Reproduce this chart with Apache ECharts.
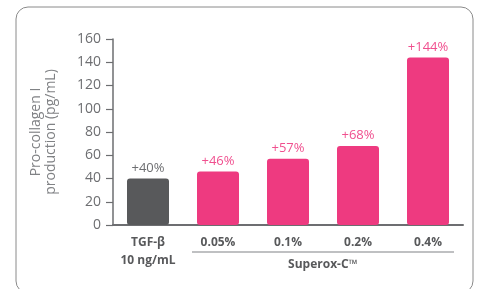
<!DOCTYPE html>
<html>
<head>
<meta charset="utf-8">
<script src="https://cdn.jsdelivr.net/npm/echarts@6/dist/echarts.min.js"></script>
<style>
  html, body { margin: 0; padding: 0; background: #fff; }
  #chart { width: 477px; height: 289px; }
</style>
</head>
<body>
<div id="chart"></div>
<script>
const categories = ["TGF-β\n10 ng/mL", "0.05%", "0.1%", "0.2%", "0.4%"];
const values = [40, 46, 57, 68, 144];
const increaseLabels = ["+40%", "+46%", "+57%", "+68%", "+144%"];
const yTicks = [0, 20, 40, 60, 80, 100, 120, 140, 160];
const groupName = "Superox-C™";

const gray = "#58595b";
const pink = "#ee3a80";
const font = "Open Sans";

const chart = echarts.init(document.getElementById("chart"));

const barData = values.map((v, i) => ({
  value: v,
  itemStyle: { color: i === 0 ? gray : pink },
  label: { color: i === 0 ? "#6d6e71" : "#f0508f" },
}));

const option = {
  animation: false,
  grid: { left: 113, right: 14, top: 39, bottom: 64 },
  xAxis: {
    type: "category",
    data: categories,
    axisLine: { lineStyle: { color: "#6d6e71", width: 2 } },
    axisTick: { show: false },
    axisLabel: {
      interval: 0,
      color: "#58595b",
      fontFamily: font,
      fontWeight: "bold",
      fontSize: 12,
      lineHeight: 18,
      margin: 9,
    },
  },
  yAxis: {
    type: "value",
    min: yTicks[0],
    max: yTicks[yTicks.length - 1],
    interval: 20,
    name: "Pro-collagen I\nproduction (pg/mL)",
    nameLocation: "middle",
    nameGap: 54,
    nameTextStyle: { color: "#808285", fontFamily: font, fontSize: 14, lineHeight: 15 },
    axisLine: { show: true, lineStyle: { color: "#6d6e71", width: 1.5 } },
    axisTick: { show: true, length: 7, lineStyle: { color: "#6d6e71", width: 1.2 } },
    splitLine: { show: false },
    axisLabel: { color: "#6d6e71", fontFamily: font, fontSize: 14, margin: 12 },
  },
  series: [
    {
      type: "bar",
      data: barData,
      barWidth: 42,
      itemStyle: { borderRadius: 3 },
      label: {
        show: true,
        position: "top",
        distance: 4,
        fontFamily: font,
        fontSize: 13,
        formatter: (p) => increaseLabels[p.dataIndex],
      },
    },
  ],
};

chart.setOption(option);

// border box plus bracket under the Superox-C doses
const first = chart.convertToPixel({ xAxisIndex: 0 }, 1);
const last = chart.convertToPixel({ xAxisIndex: 0 }, 4);
const base = chart.convertToPixel({ yAxisIndex: 0 }, 0);
const half = 26;
chart.setOption({
  graphic: [
    {
      type: "rect",
      shape: { x: 16, y: 7, width: 457, height: 286, r: 12 },
      style: { fill: "none", stroke: "#8a8a8a", lineWidth: 1 },
      silent: true,
    },
    {
      type: "line",
      shape: { x1: first - half, y1: base + 27, x2: last + half, y2: base + 27 },
      style: { stroke: "#808285", lineWidth: 1.2 },
    },
    {
      type: "text",
      x: (first + last) / 2,
      y: base + 34,
      style: {
        text: groupName,
        fill: "#58595b",
        font: "bold 12px '" + font + "'",
        textAlign: "center",
        textVerticalAlign: "top",
      },
    },
  ],
});
</script>
</body>
</html>
